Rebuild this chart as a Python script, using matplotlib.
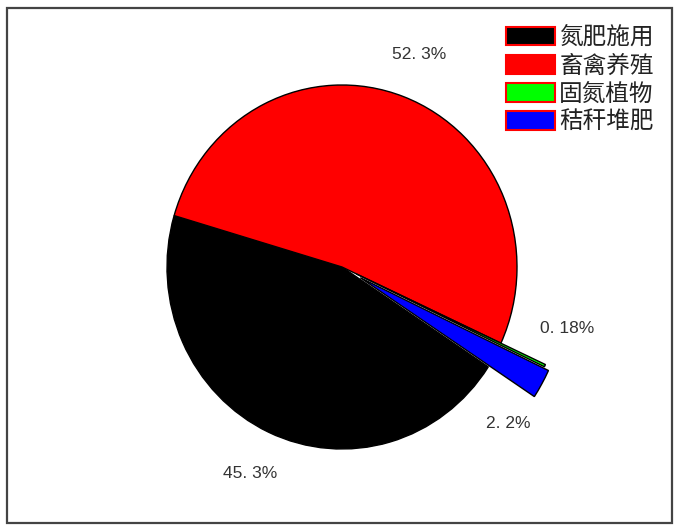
import numpy as np
import matplotlib
matplotlib.use("Agg")
import matplotlib.pyplot as plt
from matplotlib.patches import Rectangle, Patch

plt.rcParams['font.family'] = ['Noto Sans CJK SC', 'DejaVu Sans']

categories = ['氮肥施用', '畜禽养殖', '固氮植物', '秸秆堆肥']
values = [45.3, 52.3, 0.18, 2.2]
pct_labels = ['45. 3%', '52. 3%', '0. 18%', '2. 2%']
colors = ['#000000', '#ff0000', '#00ff00', '#0000ff']
explode = [0, 0, 0.09, 0.12]
label_angle_offset = [0, 0, 10.4, -12.8]
label_dist = [1.25, 1.25, 1.33, 1.28]

W, H = 677, 526
fig = plt.figure(figsize=(W / 100, H / 100), dpi=100)
ax = fig.add_axes([0, 0, 1, 1])
cx, cy, rx, ry = 342, 267, 175, 182

wedges, _ = ax.pie(values, colors=colors, explode=explode, startangle=326.7,
                   counterclock=False, radius=1.0,
                   wedgeprops=dict(edgecolor='black', linewidth=1.0))
ax.set_aspect('auto')
ax.set_xlim(-cx / rx, (W - cx) / rx)
ax.set_ylim((cy - H) / ry, cy / ry)
ax.axis('off')

# enlarge the small exploded slices
for i in (2, 3):
    wedges[i].set_radius(1.19)

for i, w in enumerate(wedges):
    mid = np.deg2rad((w.theta1 + w.theta2) / 2 + label_angle_offset[i])
    d = label_dist[i]
    ax.text(d * np.cos(mid), d * np.sin(mid), pct_labels[i], ha='center', va='center',
            fontsize=12.5, color='#333333', family=['Liberation Sans', 'DejaVu Sans'])

handles = [Patch(facecolor=c, edgecolor='red', linewidth=1.5) for c in colors]
leg = fig.legend(handles, categories, loc='upper right',
                 bbox_to_anchor=(668 / W, 1 - 12 / H), frameon=False,
                 fontsize=17, handlelength=2.05, handleheight=0.85,
                 labelspacing=0.22, handletextpad=0.2, borderpad=0.1)
for t in leg.get_texts():
    t.set_color('#222222')

fig.patches.append(Rectangle((7 / W, 1 - 523 / H), 665 / W, 515 / H,
                             transform=fig.transFigure, fill=False,
                             edgecolor='#444444', linewidth=1.6))

fig.savefig('out.png', dpi=100)
